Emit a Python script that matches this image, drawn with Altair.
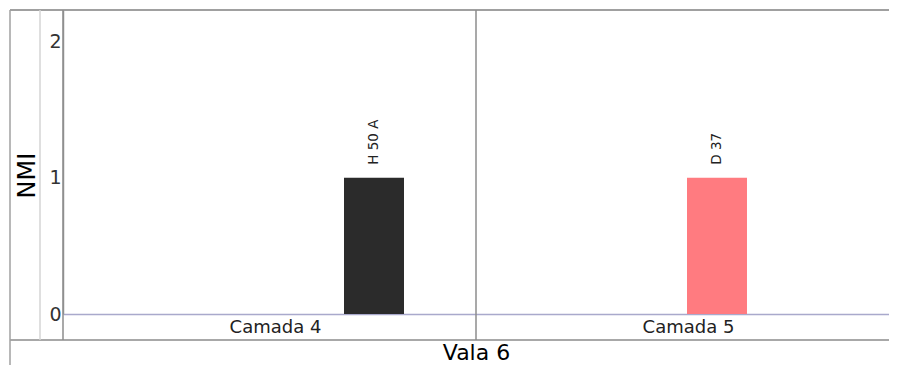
import altair as alt
import pandas as pd

# ---- data ----
camadas = ["Camada 4", "Camada 5"]          # layers (x groups)
amostras = ["H 50 A", "D 37"]               # sample shown in each layer
nmi = [1, 1]                                # NMI value of each bar
sample_order = ["D 37", "H 50 A"]
sample_colors = ["#ff7b80", "#2b2b2b"]
y_ticks = [0, 1, 2]

df = pd.DataFrame({"Camada": camadas, "Amostra": amostras, "NMI": nmi})
groups = pd.DataFrame({"Camada": camadas})
one = pd.DataFrame({"k": [0]})

W, H = 826, 304
ROW = 26            # height of the category-label row under the plot
PB = 51             # bottom padding
FONT = "DejaVu Sans"

xscale = alt.Scale(domain=camadas, paddingInner=0, paddingOuter=0)
xoff_scale = alt.Scale(domain=sample_order, paddingInner=0.143, paddingOuter=0, range=[211, 341])
yscale = alt.Scale(domain=[0, 2.23], nice=False, zero=True)

x_enc = alt.X(
    "Camada:N", scale=xscale, sort=camadas,
    axis=alt.Axis(
        title="Vala 6", titleFontSize=22, titleFont=FONT, titleColor="#000",
        titleFontWeight="normal", titleY=45.5, titleBaseline="alphabetic",
        labelFontSize=18, labelFont=FONT, labelColor="#222", labelAngle=0,
        labelAlign="center", labelOffset=6,
        labelBaseline="middle", labelPadding=13,
        ticks=False, tickSize=0, grid=False,
        domain=True, domainColor="#a9a9cc", domainWidth=1.5,
    ),
)
y_enc = alt.Y(
    "NMI:Q", scale=yscale,
    axis=alt.Axis(
        title="NMI", titleFontSize=24, titleFont=FONT, titleColor="#000",
        titleFontWeight="normal", titleAngle=270, titleX=-36, titleY=165,
        titleBaseline="middle", titleAlign="center",
        values=y_ticks, format="d", labelFontSize=19, labelFont=FONT, labelColor="#333",
        labelPadding=2, labelBaseline="middle", ticks=False, tickSize=0, grid=False,
        domain=True, domainColor="#999999", domainWidth=1.5,
    ),
)

bars = alt.Chart(df).mark_bar().encode(
    x=x_enc,
    xOffset=alt.XOffset("Amostra:N", scale=xoff_scale, sort=sample_order),
    y=y_enc,
    color=alt.Color("Amostra:N", scale=alt.Scale(domain=sample_order, range=sample_colors), legend=None),
)

labels = alt.Chart(df).mark_text(
    angle=270, align="left", baseline="middle", dx=13, fontSize=13.5, font=FONT, color="#222"
).encode(
    x=alt.X("Camada:N", scale=xscale, sort=camadas),
    xOffset=alt.XOffset("Amostra:N", scale=xoff_scale, sort=sample_order),
    y=alt.Y("NMI:Q", scale=yscale),
    text="Amostra:N",
)

# group dividers at the start of each layer band
dividers = alt.Chart(groups).mark_rule(color="#8c8c8c", strokeWidth=1.5).encode(
    x=alt.X("Camada:N", scale=xscale, bandPosition=0),
    y=alt.value(0), y2=alt.value(H + ROW),
)

# frame decoration
top_line = alt.Chart(one).mark_rule(color="#a0a0a0", strokeWidth=2).encode(
    x=alt.value(-53), x2=alt.value(W), y=alt.value(0))
bottom_line = alt.Chart(one).mark_rule(color="#a8a8a8", strokeWidth=2).encode(
    x=alt.value(-53), x2=alt.value(W), y=alt.value(H + ROW))
outer_left = alt.Chart(one).mark_rule(color="#a0a0a0", strokeWidth=1.5).encode(
    x=alt.value(-53), y=alt.value(0), y2=alt.value(H + PB))
col_line = alt.Chart(one).mark_rule(color="#d4d4d4", strokeWidth=1.5).encode(
    x=alt.value(-23), y=alt.value(0), y2=alt.value(H + ROW))

chart = alt.layer(
    top_line, bottom_line, outer_left, col_line, dividers, bars, labels
).properties(
    width=W, height=H,
    autosize=alt.AutoSizeParams(type="none"),
    padding={"left": 55, "top": 2, "right": 0, "bottom": PB},
).configure(
    font=FONT, background="white",
    view=alt.ViewConfig(stroke="transparent", strokeWidth=0),
)

chart.save("out.html", embed_options={"renderer": "svg", "actions": False})
